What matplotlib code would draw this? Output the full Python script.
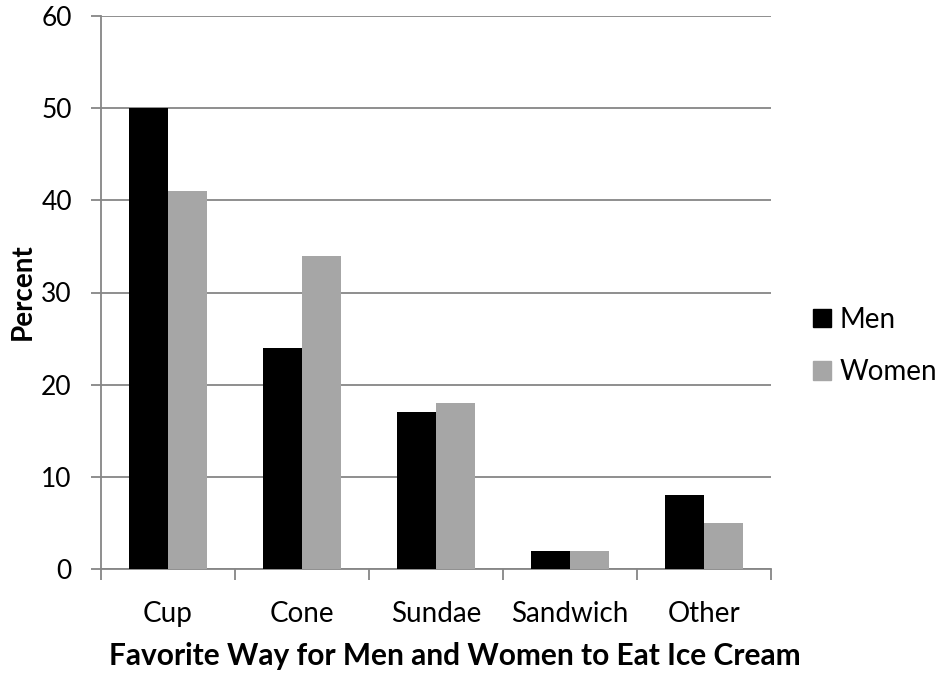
import matplotlib
matplotlib.use("Agg")
import matplotlib.pyplot as plt
import numpy as np
from matplotlib.patches import Patch

categories = ["Cup", "Cone", "Sundae", "Sandwich", "Other"]
men = [50, 24, 17, 2, 8]
women = [41, 34, 18, 2, 5]
yticks = [0, 10, 20, 30, 40, 50, 60]

plt.rcParams['font.family'] = ['Lato', 'DejaVu Sans']

fig = plt.figure(figsize=(9.45, 6.73), dpi=100)
ax = fig.add_axes([101/945, 1-569/673, (771-101)/945, (569-16)/673])

x = np.arange(len(categories))
w = 0.288
ax.bar(x - w/2, men, width=w, color='black', zorder=3, label='Men')
ax.bar(x + w/2, women, width=w, color='#A6A6A6', zorder=3, label='Women')

ax.set_xlim(-0.5, len(categories) - 0.5)
ax.set_ylim(0, 60)
ax.set_yticks(yticks)
ax.yaxis.grid(True, color='#868686', linewidth=1.3, zorder=0)
ax.set_axisbelow(True)

ax.set_xticks(np.arange(-0.5, len(categories)), minor=False)
ax.set_xticklabels([])
ax.set_xticks(x, minor=True)
ax.set_xticklabels(categories, minor=True, fontsize=20)
ax.tick_params(axis='x', which='major', length=8, width=1.3, color='#868686', direction='out')
ax.tick_params(axis='x', which='minor', length=0, pad=23)
ax.tick_params(axis='y', length=7, width=1.3, color='#868686', labelsize=19, pad=14)

for s in ['top', 'right']:
    ax.spines[s].set_visible(False)
for s in ['left', 'bottom']:
    ax.spines[s].set_color('#868686')
    ax.spines[s].set_linewidth(1.3)

fig.text(455/945, 1-665/673, "Favorite Way for Men and Women to Eat Ice Cream",
         fontsize=21.5, fontweight='bold', ha='center', va='baseline')
fig.text(23/945, 1-292/673, "Percent", fontsize=20, fontweight='bold',
         rotation=90, ha='center', va='center')

handles = [Patch(color='black', label='Men'), Patch(color='#A6A6A6', label='Women')]
fig.legend(handles=handles, loc='center left', bbox_to_anchor=(813/945, 1-346/673),
           frameon=False, fontsize=20, handlelength=0.65, handleheight=0.65,
           handletextpad=0.32, labelspacing=0.95, borderpad=0, borderaxespad=0)

fig.savefig("out.png", dpi=100)
